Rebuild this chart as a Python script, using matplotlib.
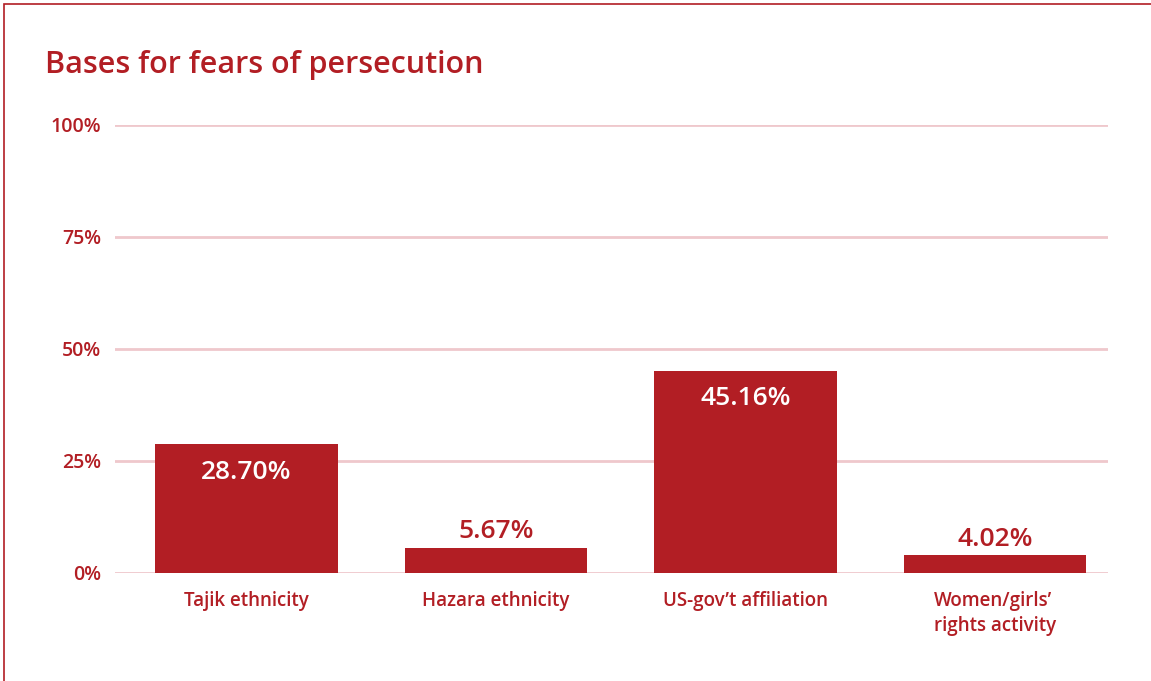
import matplotlib.pyplot as plt
from matplotlib.patches import Rectangle

categories = ['Tajik ethnicity', 'Hazara ethnicity', 'US-gov\u2019t affiliation',
              'Women/girls\u2019\nrights activity']
shares = [28.70, 5.67, 45.16, 4.02]
yticks = [0, 25, 50, 75, 100]

red = '#B21E24'
grid = '#EFC8CC'
plt.rcParams['font.family'] = ['Open Sans', 'DejaVu Sans']
plt.rcParams['font.weight'] = 'semibold'

fig = plt.figure(figsize=(11.51, 6.81), dpi=100)
fig.patch.set_facecolor('white')
# thin frame around the panel (runs off the right and bottom edges)
fig.add_artist(Rectangle((4 / 1151, -0.1), 1.2, 1.1 - 4 / 681,
                         transform=fig.transFigure, fill=False,
                         edgecolor=red, linewidth=1.2))

ax = fig.add_axes([115 / 1151, 108 / 681, 993 / 1151, 448 / 681])
x = range(len(categories))
ax.bar(x, shares, width=0.733, color=red, zorder=3)

ax.set_xlim(-0.527, 3.453)
ax.set_ylim(0, 100)
ax.set_yticks(yticks)
ax.set_yticklabels([f'{t}%' for t in yticks])
ax.yaxis.grid(True, color=grid, linewidth=2, zorder=0)
ax.tick_params(axis='y', length=0, pad=10, labelsize=14, labelcolor=red)
ax.set_xticks([])
for s in ax.spines.values():
    s.set_visible(False)

for i, (cat, v) in enumerate(zip(categories, shares)):
    if v > 15:
        ax.annotate(f'{v:.2f}%', (i, v), xytext=(0, -20), textcoords='offset points',
                    ha='center', va='center', color='white', fontsize=19)
    else:
        ax.annotate(f'{v:.2f}%', (i, v), xytext=(0, 11.5), textcoords='offset points',
                    ha='center', va='center', color=red, fontsize=19)
    ax.annotate(cat, (i, 0), xytext=(0, -13), textcoords='offset points',
                ha='center', va='top', multialignment='left',
                color=red, fontsize=13.5, linespacing=1.35)

fig.text(45 / 1151, 1 - 65 / 681, 'Bases for fears of persecution',
         color=red, fontsize=22, va='center', ha='left')

fig.savefig('out.png', dpi=100, facecolor='white')
